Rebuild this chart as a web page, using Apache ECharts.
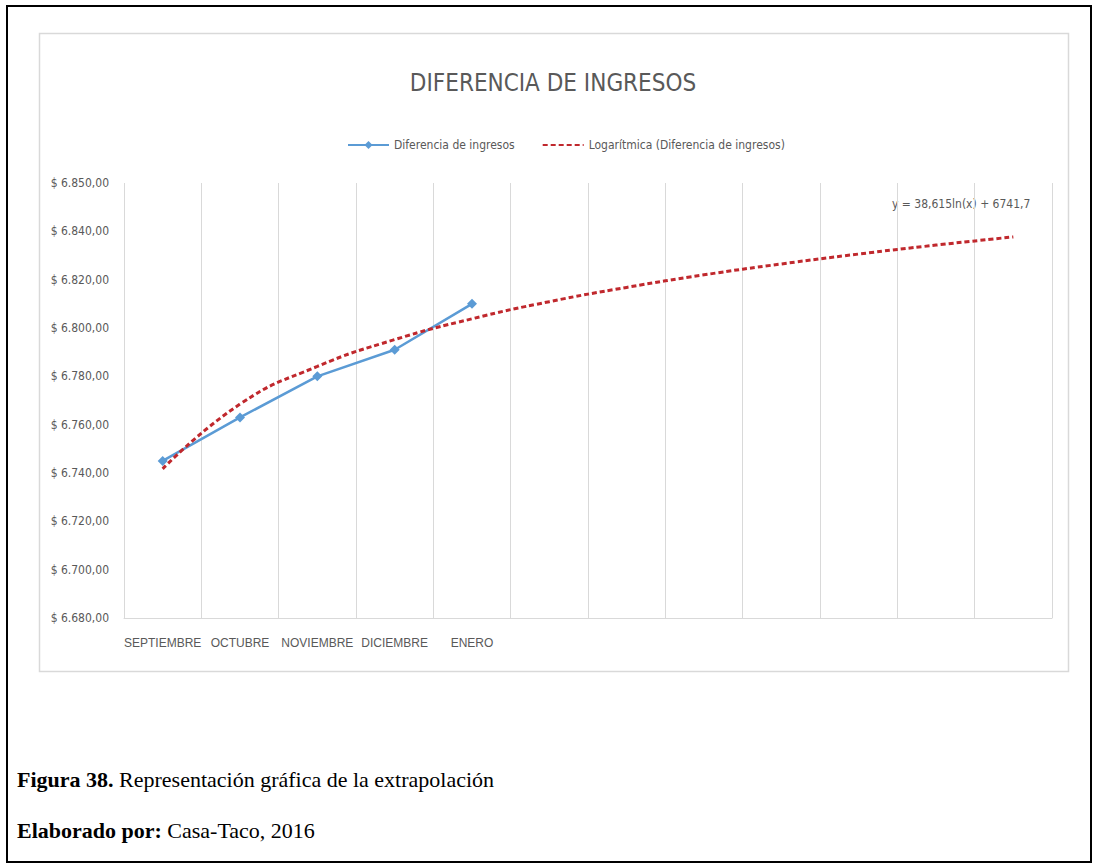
<!DOCTYPE html>
<html>
<head>
<meta charset="utf-8">
<title>Diferencia de ingresos</title>
<script src="https://cdn.jsdelivr.net/npm/echarts@6/dist/echarts.min.js"></script>
<style>
  html, body { margin: 0; padding: 0; background: #ffffff; }
  #chart { width: 1095px; height: 866px; }
</style>
</head>
<body>
<div id="chart"></div>
<script>
// Months on the category axis; the trailing blanks hold the extrapolated periods
const months = ['SEPTIEMBRE', 'OCTUBRE', 'NOVIEMBRE', 'DICIEMBRE', 'ENERO', '', '', '', '', '', '', ''];

// Observed income difference per month
const incomeDiff = [6745, 6763, 6780, 6791, 6810];

// Logarithmic trend values for each period (observed + extrapolated)
const logTrend = [6741.7, 6768.5, 6784.1, 6795.2, 6803.8, 6810.9, 6816.8, 6822.0, 6826.5, 6830.6, 6834.3, 6837.7];

// Value-axis tick labels, bottom to top
const yTickLabels = ['$ 6.680,00', '$ 6.700,00', '$ 6.720,00', '$ 6.740,00', '$ 6.760,00',
                     '$ 6.780,00', '$ 6.800,00', '$ 6.820,00', '$ 6.840,00', '$ 6.850,00'];

const seriesNames = ['Diferencia de ingresos', 'Logarítmica (Diferencia de ingresos)'];
const titleText = 'DIFERENCIA DE INGRESOS';
const equationText = 'y = 38,615ln(x) + 6741,7';

const Y_MIN = 6680, Y_STEP = 20;
const narrow = '"Liberation Sans Narrow", "DejaVu Sans Condensed", "Liberation Sans", sans-serif';
const gray = '#595959';
const serif = '"Liberation Serif", "Times New Roman", serif';

const chart = echarts.init(document.getElementById('chart'), null, { renderer: 'svg' });

chart.setOption({
  animation: false,
  backgroundColor: '#ffffff',
  title: {
    text: titleText,
    left: 548, top: 66, textAlign: 'center',
    textStyle: { fontFamily: narrow, fontSize: 24, fontWeight: 'normal', color: gray }
  },
  legend: {
    top: 134, left: 342,
    itemWidth: 41, itemHeight: 10, itemGap: 27,
    textStyle: { fontFamily: narrow, fontSize: 12, color: gray },
    data: [
      { name: seriesNames[0] },
      { name: seriesNames[1], itemStyle: { opacity: 0 } }
    ]
  },
  grid: { left: 124, right: 43, top: 183, bottom: 248, containLabel: false },
  xAxis: {
    type: 'category',
    data: months,
    boundaryGap: true,
    axisLine: { show: true, lineStyle: { color: '#d9d9d9', width: 1 } },
    axisTick: { show: false },
    splitLine: { show: true, interval: 0, lineStyle: { color: '#d9d9d9', width: 1 } },
    axisLabel: {
      interval: 0, hideOverlap: false, margin: 19,
      fontFamily: '"Liberation Sans", sans-serif', fontSize: 12, color: gray
    }
  },
  yAxis: {
    type: 'value',
    min: Y_MIN, max: 6860, interval: Y_STEP,
    axisLine: { show: false },
    axisTick: { show: false },
    splitLine: { show: false },
    axisLabel: {
      margin: 15,
      fontFamily: narrow, fontSize: 12, color: gray,
      formatter: v => yTickLabels[Math.round((v - Y_MIN) / Y_STEP)]
    }
  },
  series: [
    {
      name: seriesNames[0],
      type: 'line',
      data: incomeDiff,
      symbol: 'diamond',
      symbolSize: 10,
      z: 3,
      lineStyle: { color: '#5b9bd5', width: 2.5 },
      itemStyle: { color: '#5b9bd5' }
    },
    {
      name: seriesNames[1],
      type: 'line',
      data: logTrend,
      smooth: true,
      symbol: 'none',
      z: 4,
      lineStyle: { color: '#c0282d', width: 3, type: [5, 3] },
      itemStyle: { color: '#c0282d' }
    }
  ],
  graphic: [
    // page frame
    { type: 'rect', shape: { x: 7, y: 6, width: 1084, height: 856 },
      style: { fill: 'none', stroke: '#000000', lineWidth: 2 }, silent: true },
    // chart frame
    { type: 'rect', shape: { x: 39.5, y: 33.5, width: 1029, height: 638 },
      style: { fill: 'none', stroke: '#d9d9d9', lineWidth: 1.5 }, silent: true },
    // trend equation
    { type: 'text', left: 892, top: 198,
      style: { text: equationText, font: '12px ' + narrow, fill: gray } },
    // captions under the chart
    { type: 'text', left: 17, top: 768,
      style: {
        text: '{b|Figura 38.} Representación gráfica de la extrapolación',
        font: '22px ' + serif, fill: '#000000',
        rich: { b: { fontWeight: 'bold', fontSize: 22, fontFamily: serif, fill: '#000000' } }
      } },
    { type: 'text', left: 17, top: 819,
      style: {
        text: '{b|Elaborado por:} Casa-Taco, 2016',
        font: '22px ' + serif, fill: '#000000',
        rich: { b: { fontWeight: 'bold', fontSize: 22, fontFamily: serif, fill: '#000000' } }
      } }
  ]
});
</script>
</body>
</html>
